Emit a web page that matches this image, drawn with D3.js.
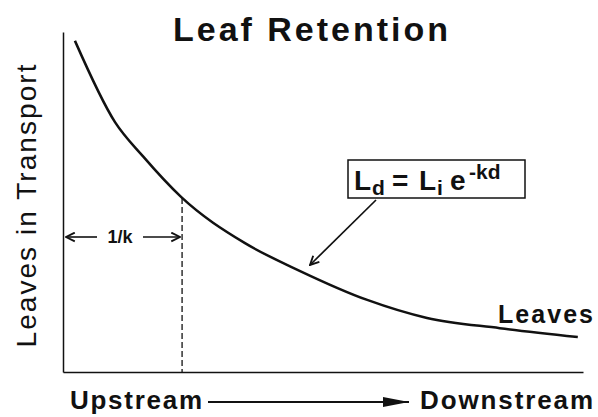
<!DOCTYPE html>
<html>
<head>
<meta charset="utf-8">
<script src="https://cdn.jsdelivr.net/npm/d3@7"></script>
<style>
  body { margin: 0; background: #fff; }
  text { font-family: "Liberation Sans", Arial, Helvetica, sans-serif; fill: #111; }
</style>
</head>
<body>
<div id="app"></div>
<script>
// distance downstream (arbitrary units) and leaves in transport (% of initial)
const distance = [0.23, 1.0, 1.54, 2.27, 3.5, 4.56, 5.85, 7.0, 8.4, 9.9];
const leaves = [97.4, 73.5, 63.4, 51.5, 37.9, 29.7, 21.2, 15.9, 12.9, 10.3];
const oneOverK = 2.29;
const oneOverKLeaves = 51.2;

const width = 598, height = 417;

const svg = d3.select('#app')
  .append('svg')
  .attr('width', width)
  .attr('height', height);

// arrowheads
const defs = svg.append('defs');
defs.append('marker')
  .attr('id', 'open')
  .attr('viewBox', '0 0 10 10')
  .attr('refX', 9).attr('refY', 5)
  .attr('markerWidth', 11).attr('markerHeight', 11)
  .attr('markerUnits', 'userSpaceOnUse')
  .attr('orient', 'auto')
  .append('path')
  .attr('d', 'M1,1 L9,5 L1,9')
  .attr('fill', 'none')
  .attr('stroke', '#111')
  .attr('stroke-width', 1.7);
defs.append('marker')
  .attr('id', 'filled')
  .attr('viewBox', '0 0 10 10')
  .attr('refX', 10).attr('refY', 5)
  .attr('markerWidth', 26).attr('markerHeight', 10)
  .attr('markerUnits', 'userSpaceOnUse')
  .attr('preserveAspectRatio', 'none')
  .attr('orient', 'auto')
  .append('path')
  .attr('d', 'M0,0 L10,5 L0,10 Z')
  .attr('fill', '#111');

const x = d3.scaleLinear().domain([0, 10]).range([63, 583]);
const y = d3.scaleLinear().domain([0, 100]).range([372, 32]);

// axes (no ticks)
svg.append('g')
  .attr('transform', 'translate(0,' + y(0) + ')')
  .call(d3.axisBottom(x).ticks(0).tickSizeOuter(0))
  .select('.domain').attr('stroke', '#111').attr('stroke-width', 1.5);
svg.append('g')
  .attr('transform', 'translate(' + x(0) + ',0)')
  .call(d3.axisLeft(y).ticks(0).tickSizeOuter(0))
  .select('.domain').attr('stroke', '#111').attr('stroke-width', 1.5);

// the curve
const pts = distance.map((d, i) => [d, leaves[i]]);
const line = d3.line()
  .x(d => x(d[0]))
  .y(d => y(d[1]))
  .curve(d3.curveMonotoneX);

svg.append('path')
  .datum(pts)
  .attr('d', line)
  .attr('fill', 'none')
  .attr('stroke', '#111')
  .attr('stroke-width', 2.5);

// dashed 1/k line
svg.append('line')
  .attr('x1', x(oneOverK)).attr('x2', x(oneOverK))
  .attr('y1', y(oneOverKLeaves)).attr('y2', y(0))
  .attr('stroke', '#111')
  .attr('stroke-width', 1.3)
  .attr('stroke-dasharray', '6,3');

// 1/k arrows and label
const ky = 237;
svg.append('line')
  .attr('x1', 97).attr('y1', ky).attr('x2', x(0) + 3).attr('y2', ky)
  .attr('stroke', '#111').attr('stroke-width', 1.6)
  .attr('marker-end', 'url(#open)');
svg.append('line')
  .attr('x1', 143).attr('y1', ky).attr('x2', x(oneOverK) - 2).attr('y2', ky)
  .attr('stroke', '#111').attr('stroke-width', 1.6)
  .attr('marker-end', 'url(#open)');
svg.append('text')
  .attr('x', 120).attr('y', 243)
  .attr('text-anchor', 'middle')
  .attr('font-size', 18).attr('font-weight', 'bold')
  .text('1/k');

// title
svg.append('text')
  .attr('x', 173).attr('y', 41)
  .attr('font-size', 34).attr('font-weight', 'bold')
  .attr('textLength', 275).attr('lengthAdjust', 'spacing')
  .text('Leaf  Retention');

// y label
svg.append('text')
  .attr('transform', 'translate(36,206) rotate(-90)')
  .attr('text-anchor', 'middle')
  .attr('font-size', 28)
  .attr('textLength', 283).attr('lengthAdjust', 'spacing')
  .text('Leaves  in  Transport');

// x labels
svg.append('text')
  .attr('x', 70).attr('y', 409)
  .attr('font-size', 26).attr('font-weight', 'bold')
  .attr('textLength', 132).attr('lengthAdjust', 'spacing')
  .text('Upstream');
svg.append('text')
  .attr('x', 420).attr('y', 409)
  .attr('font-size', 26).attr('font-weight', 'bold')
  .attr('textLength', 173).attr('lengthAdjust', 'spacing')
  .text('Downstream');
svg.append('line')
  .attr('x1', 208).attr('y1', 402).attr('x2', 409).attr('y2', 402)
  .attr('stroke', '#111').attr('stroke-width', 2)
  .attr('marker-end', 'url(#filled)');

// series label
svg.append('text')
  .attr('x', 498).attr('y', 323)
  .attr('font-size', 25).attr('font-weight', 'bold')
  .attr('textLength', 95).attr('lengthAdjust', 'spacing')
  .text('Leaves');

// equation box
svg.append('rect')
  .attr('x', 348).attr('y', 160)
  .attr('width', 177).attr('height', 38)
  .attr('fill', '#fff')
  .attr('stroke', '#111').attr('stroke-width', 1.5);
const eq = svg.append('text')
  .attr('y', 190)
  .attr('font-size', 28).attr('font-weight', 'bold');
eq.append('tspan').attr('x', 354).text('L');
eq.append('tspan').attr('x', 372).attr('font-size', 21).attr('dy', 5).text('d');
eq.append('tspan').attr('x', 392).attr('dy', -5).text('=');
eq.append('tspan').attr('x', 419).text('L');
eq.append('tspan').attr('x', 437).attr('font-size', 21).attr('dy', 5).text('i');
eq.append('tspan').attr('x', 450).attr('dy', -5).text('e');
eq.append('tspan').attr('x', 469).attr('font-size', 21).attr('dy', -11).text('-kd');

// pointer from equation to curve
svg.append('line')
  .attr('x1', 376).attr('y1', 200).attr('x2', 310).attr('y2', 265)
  .attr('stroke', '#111').attr('stroke-width', 1.7)
  .attr('marker-end', 'url(#open)');
</script>
</body>
</html>
